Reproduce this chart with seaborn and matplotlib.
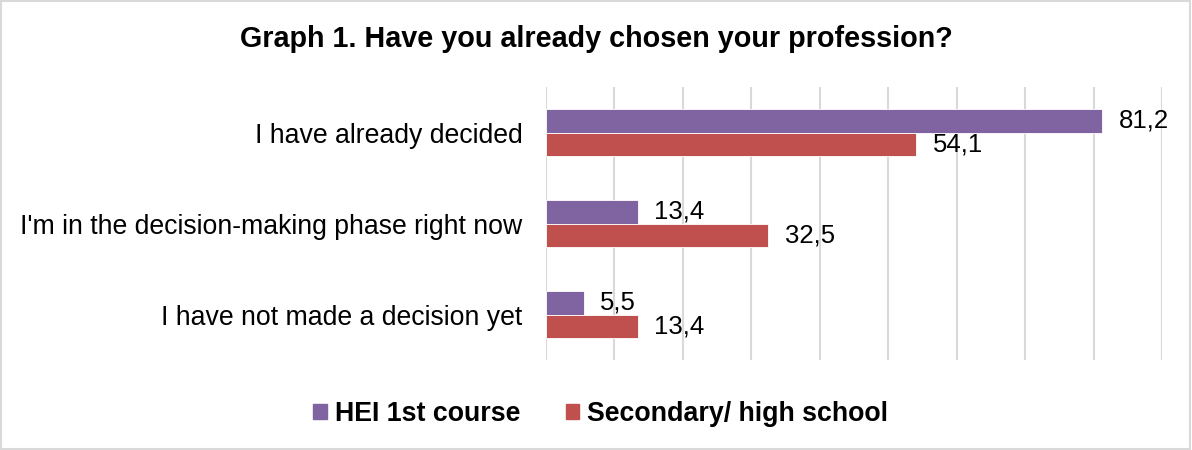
import matplotlib
matplotlib.use("Agg")
import matplotlib.pyplot as plt
import seaborn as sns
import pandas as pd
from matplotlib.patches import Rectangle

categories = ["I have already decided",
              "I'm in the decision-making phase right now",
              "I have not made a decision yet"]
series_names = ["HEI 1st course", "Secondary/ high school"]
hei_values = [81.2, 13.4, 5.5]
school_values = [54.1, 32.5, 13.4]
colors = ["#8064A2", "#C0504D"]

df = pd.DataFrame({
    "category": categories * 2,
    "group": [series_names[0]] * 3 + [series_names[1]] * 3,
    "value": hei_values + school_values,
})

sns.set_theme(style="white")
plt.rcParams["font.family"] = ["Liberation Sans", "DejaVu Sans"]
plt.rcParams["text.color"] = "black"
plt.rcParams["xtick.color"] = "black"
plt.rcParams["ytick.color"] = "black"

fig = plt.figure(figsize=(11.92, 4.5), dpi=100)
ax = fig.add_axes([546 / 1192, 1 - 360 / 450, (1162 - 546) / 1192, (360 - 87) / 450])

sns.barplot(data=df, y="category", x="value", hue="group", order=categories,
            hue_order=series_names, palette=colors, orient="h", width=0.52,
            ax=ax, legend=False, saturation=1, edgecolor="white", linewidth=0.6)

ax.set_xlim(0, 90)
ax.set_xticks(range(0, 91, 10))
ax.set_xticklabels([])
ax.tick_params(axis="x", length=0)
ax.tick_params(axis="y", length=0, labelsize=19.2, pad=17, labelcolor="black")
ax.xaxis.grid(True, color="#D9D9D9", linewidth=1.5)
ax.set_axisbelow(True)
for s in ax.spines.values():
    s.set_visible(False)
ax.set_xlabel("")
ax.set_ylabel("")

for cont in ax.containers:
    labels = [f"{v:.1f}".replace(".", ",") for v in cont.datavalues]
    ax.bar_label(cont, labels=labels, padding=12, fontsize=18.5, color="black")

fig.text(0.5, 1 - 39 / 450, "Graph 1. Have you already chosen your profession?",
         ha="center", va="center", fontsize=20.7, fontweight="bold", color="black")

handles = [Rectangle((0, 0), 1, 1, color=c) for c in colors]
fig.legend(handles, series_names, loc="center", bbox_to_anchor=(0.504, 1 - 414 / 450),
           ncol=2, frameon=False, prop={"weight": "bold", "size": 19.3},
           handlelength=0.5, handleheight=0.5, handletextpad=0.3, columnspacing=1.7,
           labelcolor="black")

fig.patches.append(Rectangle((0.001, 0.002), 0.997, 0.996, transform=fig.transFigure,
                             fill=False, edgecolor="#D9D9D9", linewidth=1.5))

fig.savefig("out.png", dpi=100, facecolor="white")
